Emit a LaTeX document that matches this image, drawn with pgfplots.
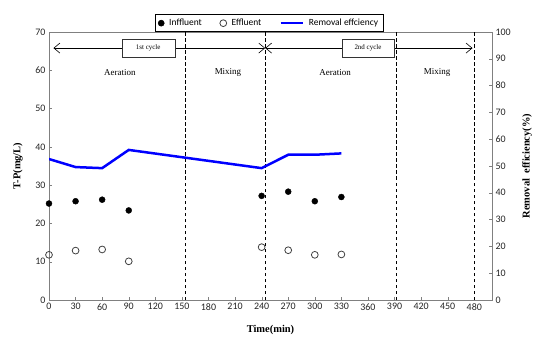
\documentclass[border=0pt]{standalone}
\usepackage{fontspec}
\setmainfont{Carlito}
\newfontfamily\serif{Liberation Serif}
\usepackage{pgfplots}
\pgfplotsset{compat=1.18}
\usetikzlibrary{arrows.meta}
\pgfplotsset{longline/.style={legend image code/.code={\draw[##1] (0bp,0bp) -- (22bp,0bp);}}}
\begin{document}
\begin{tikzpicture}
\begin{axis}[
  scale only axis, width=443bp, height=268bp,
  xmin=0, xmax=500, ymin=0, ymax=70,
  xtick={0,30,...,480}, ytick={0,10,...,70},
  tick align=inside, major tick length=3bp,
  xtick pos=bottom, ytick pos=left,
  axis line style={gray}, tick style={gray},
  ticklabel style={font=\fontsize{10}{12}\selectfont, text=black!85},
  /pgf/number format/assume math mode=true,
  every axis x label/.style={at={(axis description cs:0.5,0)}, anchor=center, yshift=-30bp},
  every axis y label/.style={at={(axis description cs:-0.070,0.5)}, rotate=90, anchor=center},
  xlabel={\serif\bfseries\fontsize{10.5}{12}\selectfont Time(min)},
  ylabel={\serif\bfseries\fontsize{10.5}{12}\selectfont T-P(mg/L)},
]
\addplot[only marks, mark=*, mark size=3bp, black] coordinates {
  (0,25.2)(30,25.8)(60,26.2)(90,23.4)(240,27.2)(270,28.3)(300,25.8)(330,26.9)};
\addplot[only marks, mark=o, mark size=3.4bp, black!75, mark options={fill=white, line width=0.8bp}] coordinates {
  (0,11.8)(30,12.9)(60,13.2)(90,10.1)(240,13.8)(270,13.0)(300,11.8)(330,11.9)};
\draw[black, line width=0.6bp, dash pattern=on 3.5bp off 2.5bp] (axis cs:154,0) -- (axis cs:154,70);
\draw[black, line width=0.6bp, dash pattern=on 3.5bp off 2.5bp] (axis cs:244,0) -- (axis cs:244,70);
\draw[black, line width=0.6bp, dash pattern=on 3.5bp off 2.5bp] (axis cs:392,0) -- (axis cs:392,70);
\draw[black, line width=0.6bp, dash pattern=on 3.5bp off 2.5bp] (axis cs:480,0) -- (axis cs:480,70);
\draw[black, line width=0.6bp, {Straight Barb[length=6bp,width=10bp]}-{Straight Barb[length=6bp,width=10bp]}] (axis cs:5,65.8) -- (axis cs:244,65.8);
\draw[black, line width=0.6bp, {Straight Barb[length=6bp,width=10bp]}-{Straight Barb[length=6bp,width=10bp]}] (axis cs:244,65.8) -- (axis cs:478,65.8);
\node[draw=black!80, fill=white, minimum width=53bp, minimum height=18bp, inner sep=0pt, font=\serif\fontsize{7}{8}\selectfont] at (axis cs:112,65.8) {1st cycle};
\node[draw=black!80, fill=white, minimum width=52bp, minimum height=18bp, inner sep=0pt, font=\serif\fontsize{7}{8}\selectfont] at (axis cs:360,65.8) {2nd cycle};
\node[font=\serif\fontsize{9}{10}\selectfont] at (axis cs:80,59.5) {Aeration};
\node[font=\serif\fontsize{9}{10}\selectfont] at (axis cs:202,59.5) {Mixing};
\node[font=\serif\fontsize{9}{10}\selectfont] at (axis cs:323,59.5) {Aeration};
\node[font=\serif\fontsize{9}{10}\selectfont] at (axis cs:438,59.5) {Mixing};
\end{axis}
\begin{axis}[
  scale only axis, width=443bp, height=268bp,
  xmin=0, xmax=500, ymin=0, ymax=100,
  axis y line*=right, axis x line=none,
  ytick={0,10,...,100},
  tick align=inside, major tick length=3bp,
  axis line style={gray}, tick style={gray},
  ticklabel style={font=\fontsize{10}{12}\selectfont, text=black!85},
  /pgf/number format/assume math mode=true,
  every axis y label/.style={at={(axis description cs:1.079,0.5)}, rotate=90, anchor=center},
  ylabel={\serif\bfseries\fontsize{10.5}{12}\selectfont Removal\ \ efficiency(\%)},
  legend style={at={(0.497,1)}, anchor=south, draw=black, line width=0.6bp,
    font=\fontsize{9.5}{11}\selectfont, inner ysep=2.5bp, inner xsep=3bp,
    /tikz/every odd column/.style={column sep=3bp},
    /tikz/every even column/.style={column sep=16bp}},
  legend columns=3,
]
\addlegendimage{only marks, mark=*, mark size=3bp, black}
\addlegendentry{Inffluent}
\addlegendimage{only marks, mark=o, mark size=3.4bp, black!75, mark options={line width=0.8bp}}
\addlegendentry{Effluent}
\addplot[blue, line width=2.5bp, longline] coordinates {
  (0,52.6)(30,49.6)(60,49.2)(90,56.0)(240,49.2)(270,54.2)(300,54.2)(330,54.7)};
\addlegendentry{Removal effciency}
\end{axis}
\pgfresetboundingbox
\path[use as bounding box] ([xshift=-49bp,yshift=-40bp]current axis.south west) rectangle ([xshift=46bp,yshift=32bp]current axis.north east);
\end{tikzpicture}
\end{document}
